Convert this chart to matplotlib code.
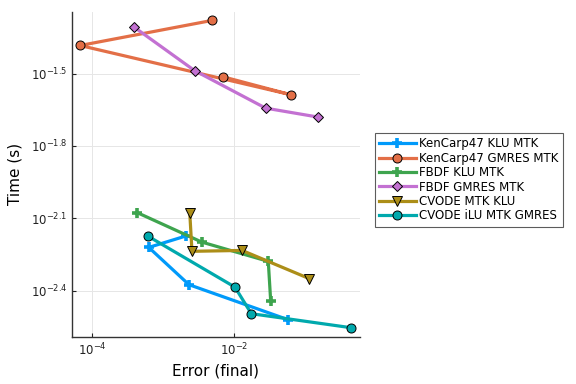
import numpy as np
import matplotlib
matplotlib.use("Agg")
import matplotlib.pyplot as plt
from matplotlib.ticker import NullLocator

# work-precision data (error, time in s)
kc_klu_err = [2.09e-3, 6.3e-4, 2.32e-3, 0.0582]
kc_klu_time = [0.00670, 0.00601, 0.00421, 0.00301]

kc_gmres_err = [4.9e-3, 6.8e-5, 0.0635, 7.0e-3]
kc_gmres_time = [0.0526, 0.0414, 0.02585, 0.0307]

fbdf_klu_err = [4.3e-4, 3.54e-3, 0.0304, 0.0329]
fbdf_klu_time = [0.00839, 0.00632, 0.00526, 0.00359]

fbdf_gmres_err = [3.86e-4, 2.79e-3, 0.0279, 0.151]
fbdf_gmres_time = [0.0495, 0.03255, 0.02275, 0.0209]

cvode_klu_err = [2.38e-3, 2.56e-3, 0.01298, 0.115]
cvode_klu_time = [0.00839, 0.00579, 0.00584, 0.00446]

cvode_ilu_err = [6.1e-4, 0.01033, 0.01755, 0.445]
cvode_ilu_time = [0.00670, 0.00411, 0.00319, 0.00279]

labels = ["KenCarp47 KLU MTK", "KenCarp47 GMRES MTK", "FBDF KLU MTK",
          "FBDF GMRES MTK", "CVODE MTK KLU", "CVODE iLU MTK GMRES"]
colors = ["#009AFA", "#E36F47", "#3EA44E", "#C371D2", "#AC8E18", "#00A9AD"]
markers = ["+", "o", "+", "D", "v", "o"]

series = [(kc_klu_err, kc_klu_time), (kc_gmres_err, kc_gmres_time),
          (fbdf_klu_err, fbdf_klu_time), (fbdf_gmres_err, fbdf_gmres_time),
          (cvode_klu_err, cvode_klu_time), (cvode_ilu_err, cvode_ilu_time)]

fig = plt.figure(figsize=(5.76, 3.84), dpi=100)
ax = fig.add_axes([0.125, 0.123, 0.5, 0.847])

for (x, y), lab, c, m in zip(series, labels, colors, markers):
    if m == "+":
        ax.plot(x, y, color=c, lw=2.3, marker="+", ms=7, mew=2.6, label=lab)
    else:
        size = 5.5 if m == "D" else 6.5
        ax.plot(x, y, color=c, lw=2.3, marker=m, ms=size, mfc=c,
                mec="black", mew=0.7, label=lab)

ax.set_xscale("log")
ax.set_yscale("log")
ax.set_xlim(10**-4.282, 10**-0.225)
ax.set_ylim(10**-2.592, 10**-1.242)

ax.set_xticks([1e-4, 1e-2])
ax.set_xticklabels([r"$10^{-4}$", r"$10^{-2}$"])
ax.set_yticks([10**-1.5, 10**-1.8, 10**-2.1, 10**-2.4])
ax.set_yticklabels([r"$10^{-1.5}$", r"$10^{-1.8}$", r"$10^{-2.1}$", r"$10^{-2.4}$"])
ax.xaxis.set_minor_locator(NullLocator())
ax.yaxis.set_minor_locator(NullLocator())
ax.tick_params(direction="in", length=3, width=0.8, labelsize=8.5, colors="#222222")

ax.grid(True, color="#e6e6e6", lw=0.7)
ax.set_axisbelow(True)
ax.spines["top"].set_visible(False)
ax.spines["right"].set_visible(False)
for s in ["left", "bottom"]:
    ax.spines[s].set_color("#333333")
    ax.spines[s].set_linewidth(1.0)

ax.set_xlabel("Error (final)", fontsize=11)
ax.set_ylabel("Time (s)", fontsize=11, labelpad=6)

leg = ax.legend(loc="upper left", bbox_to_anchor=(0.651, 0.653),
                bbox_transform=fig.transFigure, fontsize=8.5, frameon=True,
                fancybox=False, edgecolor="#333333", handlelength=3.1,
                handletextpad=0.3, borderpad=0.35, labelspacing=0.12,
                borderaxespad=0)
leg.get_frame().set_linewidth(0.8)

fig.savefig("out.png", dpi=100)
